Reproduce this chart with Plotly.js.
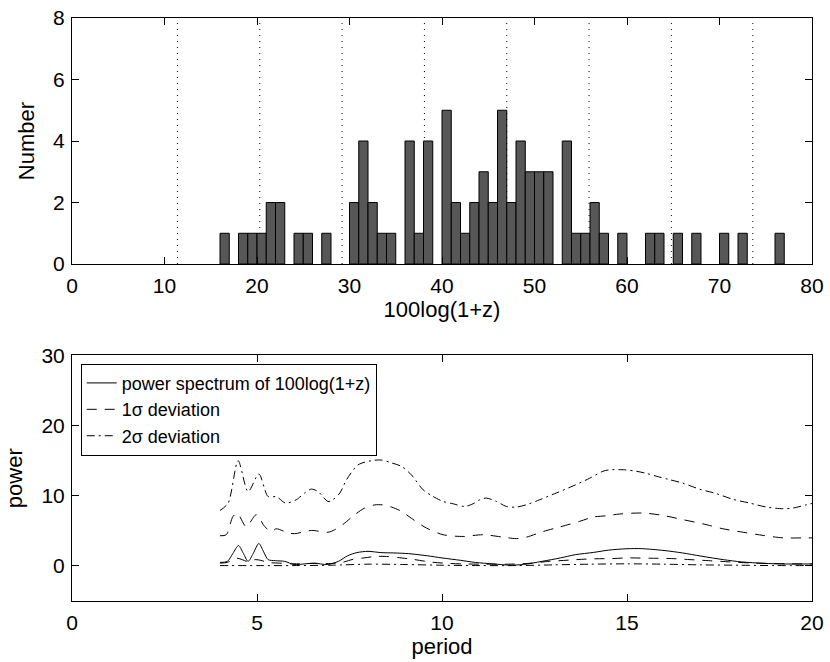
<!DOCTYPE html>
<html>
<head>
<meta charset="utf-8">
<script src="https://cdn.plot.ly/plotly-3.0.1.min.js"></script>
<style>
  html, body { margin: 0; padding: 0; background: #ffffff; }
  #chart { width: 830px; height: 662px; }
</style>
</head>
<body>
<div id="chart"></div>
<script>
// ---- Top panel: histogram of 100log(1+z) (bins of width 1, left edges) ----
const binLeft = [16, 18, 19, 20, 21, 22, 24, 25, 27, 30, 31, 32, 33, 34, 36, 37, 38,
                 40, 41, 42, 43, 44, 45, 46, 47, 48, 49, 50, 51, 53, 54, 55, 56, 57,
                 59, 62, 63, 65, 67, 70, 72, 76];
const counts  = [1, 1, 1, 1, 2, 2, 1, 1, 1, 2, 4, 2, 1, 1, 4, 1, 4,
                 5, 2, 1, 2, 3, 2, 5, 2, 4, 3, 3, 3, 4, 1, 1, 2, 1,
                 1, 1, 1, 1, 1, 1, 1, 1];
const dottedLines = [11.4, 20.3, 29.2, 38.1, 47.0, 55.9, 64.8, 73.6];
const topXTicks = [0, 10, 20, 30, 40, 50, 60, 70, 80];
const topYTicks = [0, 2, 4, 6, 8];

// ---- Bottom panel: power spectrum ----
const specPeriod = [4.0, 4.2, 4.35, 4.5, 4.63, 4.76, 4.9, 5.05, 5.18, 5.3, 5.5, 5.75, 6.0, 6.3, 6.55,
                    6.9, 7.2, 7.45, 7.7, 8.0, 8.35, 8.7, 9.1, 9.6, 10.0, 10.5, 10.9, 11.4, 11.8,
                    12.2, 12.7, 13.2, 13.6, 14.1, 14.5, 15.0, 15.4, 16.0, 16.5, 17.0, 17.6, 18.1,
                    18.7, 19.2, 20.0];
const specPower  = [0.5, 0.65, 1.8, 2.9, 1.8, 0.65, 1.8, 3.2, 2.0, 0.9, 0.75, 0.65, 0.2, 0.3, 0.4,
                    0.2, 0.65, 1.45, 1.9, 2.08, 1.9, 1.85, 1.75, 1.45, 1.14, 0.8, 0.5, 0.28, 0.12,
                    0.2, 0.65, 1.14, 1.6, 1.93, 2.25, 2.45, 2.46, 2.2, 1.85, 1.4, 0.9, 0.57,
                    0.37, 0.28, 0.28];

const sig1Period = [4.0, 4.17, 4.35, 4.47, 4.71, 4.98, 5.21, 5.39, 5.52, 5.84, 6.02, 6.47, 6.92, 7.1,
                    7.32, 7.64, 7.91, 8.18, 8.41, 8.63, 8.9, 9.17, 9.58, 10.03, 10.57, 11.11, 11.65,
                    12.01, 12.28, 12.73, 13.18, 13.72, 14.08, 14.44, 14.8, 15.43, 15.97, 16.51,
                    17.05, 17.59, 18.14, 18.68, 19.22, 19.76, 20.0];
const sig1Power  = [4.3, 4.45, 7.05, 7.5, 5.6, 7.3, 5.6, 4.9, 5.3, 4.7, 4.6, 5.06, 4.8, 5.16,
                    5.9, 7.3, 8.25, 8.7, 8.7, 8.4, 7.8, 6.8, 5.4, 4.45, 4.2, 4.45, 4.1,
                    3.9, 4.1, 4.9, 5.55, 6.35, 6.97, 7.15, 7.4, 7.54, 7.2, 6.6,
                    6.0, 5.3, 4.8, 4.35, 4.0, 4.0, 4.0];

const sig2Period = [4.0, 4.22, 4.49, 4.76, 5.05, 5.3, 5.53, 5.77, 6.06, 6.29, 6.47, 6.65, 6.92, 7.05,
                    7.24, 7.42, 7.73, 8.09, 8.36, 8.63, 8.9, 9.17, 9.49, 9.76, 10.03, 10.3, 10.61,
                    10.84, 11.02, 11.2, 11.47, 11.74, 12.01, 12.28, 12.64, 13.09, 13.54, 13.99,
                    14.35, 14.53, 14.94, 15.25, 15.52, 15.79, 16.15, 16.51, 16.96, 17.42, 17.86,
                    18.32, 18.77, 19.22, 19.49, 19.85, 20.0];
const sig2Power  = [7.9, 8.96, 15.0, 10.6, 13.1, 9.9, 9.86, 8.96, 9.43, 10.4, 10.95, 10.6, 9.19, 9.43,
                    10.4, 12.3, 14.4, 15.0, 15.1, 14.7, 14.2, 13.0, 10.85, 9.9, 9.19, 8.86, 8.48,
                    8.86, 9.43, 9.67, 9.19, 8.48, 8.39, 8.72, 9.43, 10.4, 11.4, 12.5,
                    13.5, 13.7, 13.7, 13.5, 13.2, 12.8, 12.3, 11.8, 10.95, 10.3, 9.5,
                    8.96, 8.39, 8.15, 8.25, 8.72, 8.9];

const lowDashPeriod = [4.0, 4.2, 4.45, 4.6, 4.75, 4.95, 5.1, 5.3, 5.6, 6.0, 6.5, 7.0, 7.3, 7.6, 7.9,
                       8.2, 8.5, 8.8, 9.2, 9.7, 10.2, 10.6, 11.2, 11.8, 12.3, 12.9, 13.5, 14.0,
                       14.6, 15.0, 15.6, 16.2, 16.7, 17.2, 17.8, 18.3, 18.8, 19.3, 20.0];
const lowDashPower  = [0.4, 0.5, 1.1, 0.9, 0.6, 0.9, 0.8, 0.5, 0.4, 0.3, 0.35, 0.35, 0.5, 0.95, 1.15,
                       1.35, 1.35, 1.2, 0.95, 0.55, 0.35, 0.28, 0.25, 0.25, 0.35, 0.65, 0.85, 1.0,
                       1.05, 1.14, 1.1, 1.05, 0.9, 0.75, 0.57, 0.43, 0.36, 0.3, 0.28];

const lowDotPeriod = [4, 5, 6, 7, 8, 9, 10, 11, 12, 13, 14, 15, 16, 17, 18, 19, 20];
const lowDotPower  = [0.05, 0.05, 0.05, 0.1, 0.25, 0.2, 0.1, 0.05, 0.05, 0.15, 0.25, 0.3, 0.25, 0.15, 0.1, 0.05, 0.05];

const botXTicks = [0, 5, 10, 15, 20];
const botYTicks = [0, 10, 20, 30];

const FONT = 'Liberation Sans, Arial, Helvetica, sans-serif';
const DASH = '10px,8px';
const DASHDOT = '8px,4px,2px,4px';

const traces = [
  {
    type: 'bar', x: binLeft, y: counts, width: 1, offset: 0,
    marker: { color: '#575757', line: { color: '#000000', width: 1 } },
    xaxis: 'x', yaxis: 'y', showlegend: false, hoverinfo: 'skip'
  },
  {
    type: 'scatter', mode: 'lines', x: specPeriod, y: specPower,
    name: 'power spectrum of 100log(1+z)',
    line: { color: '#000000', width: 1, shape: 'spline', smoothing: 0.8 },
    xaxis: 'x2', yaxis: 'y2'
  },
  {
    type: 'scatter', mode: 'lines', x: sig1Period, y: sig1Power,
    name: '1\u03c3 deviation',
    line: { color: '#000000', width: 1, dash: DASH, shape: 'spline', smoothing: 0.8 },
    xaxis: 'x2', yaxis: 'y2'
  },
  {
    type: 'scatter', mode: 'lines', x: sig2Period, y: sig2Power,
    name: '2\u03c3 deviation',
    line: { color: '#000000', width: 1, dash: DASHDOT, shape: 'spline', smoothing: 0.8 },
    xaxis: 'x2', yaxis: 'y2'
  },
  {
    type: 'scatter', mode: 'lines', x: lowDashPeriod, y: lowDashPower,
    line: { color: '#000000', width: 1, dash: DASH, shape: 'spline', smoothing: 0.8 },
    xaxis: 'x2', yaxis: 'y2', showlegend: false
  },
  {
    type: 'scatter', mode: 'lines', x: lowDotPeriod, y: lowDotPower,
    line: { color: '#000000', width: 1, dash: DASHDOT, shape: 'spline', smoothing: 0.8 },
    xaxis: 'x2', yaxis: 'y2', showlegend: false
  }
];

const shapes = dottedLines.map(v => ({
  type: 'line', xref: 'x', yref: 'y', x0: v, x1: v, y0: 0, y1: 8,
  line: { color: '#000000', width: 1, dash: '1px,5px' }, layer: 'below'
}));

function axisBase(extra) {
  return Object.assign({
    showline: true, linecolor: '#000000', linewidth: 1, mirror: 'allticks',
    ticks: 'inside', ticklen: 7, tickwidth: 1, tickcolor: '#000000',
    showgrid: false, zeroline: false,
    tickfont: { family: FONT, size: 21, color: '#000000' },
    fixedrange: true
  }, extra);
}

const layout = {
  width: 830, height: 662,
  margin: { l: 72, r: 18, t: 18, b: 61 },
  paper_bgcolor: '#ffffff', plot_bgcolor: '#ffffff',
  font: { family: FONT, color: '#000000' },
  bargap: 0,
  xaxis: axisBase({
    domain: [0, 1], range: [0, 80], tickvals: topXTicks, anchor: 'y',
    ticklabelstandoff: 3,
    title: { text: '100log(1+z)', font: { family: FONT, size: 22 }, standoff: 4 }
  }),
  yaxis: axisBase({
    domain: [0.578, 1], range: [0, 8], tickvals: topYTicks, anchor: 'x',
    ticklabelstandoff: 2,
    title: { text: 'Number', font: { family: FONT, size: 22 }, standoff: 12 }
  }),
  xaxis2: axisBase({
    domain: [0, 1], range: [0, 20], tickvals: botXTicks, anchor: 'y2',
    ticklabelstandoff: 3,
    title: { text: 'period', font: { family: FONT, size: 22 }, standoff: 2 }
  }),
  yaxis2: axisBase({
    domain: [0, 0.4211], range: [-5, 30], tickvals: botYTicks, anchor: 'x2',
    ticklabelstandoff: 2,
    title: { text: 'power', font: { family: FONT, size: 22 }, standoff: 12 }
  }),
  shapes: shapes,
  showlegend: true,
  legend: {
    x: 0.0118, y: 0.407, xanchor: 'left', yanchor: 'top',
    xref: 'paper', yref: 'paper',
    bgcolor: '#ffffff', bordercolor: '#000000', borderwidth: 1,
    font: { family: FONT, size: 18, color: '#000000' },
    itemwidth: 30, tracegroupgap: 0
  }
};

Plotly.newPlot('chart', traces, layout, { displayModeBar: false, staticPlot: true });
</script>
</body>
</html>
